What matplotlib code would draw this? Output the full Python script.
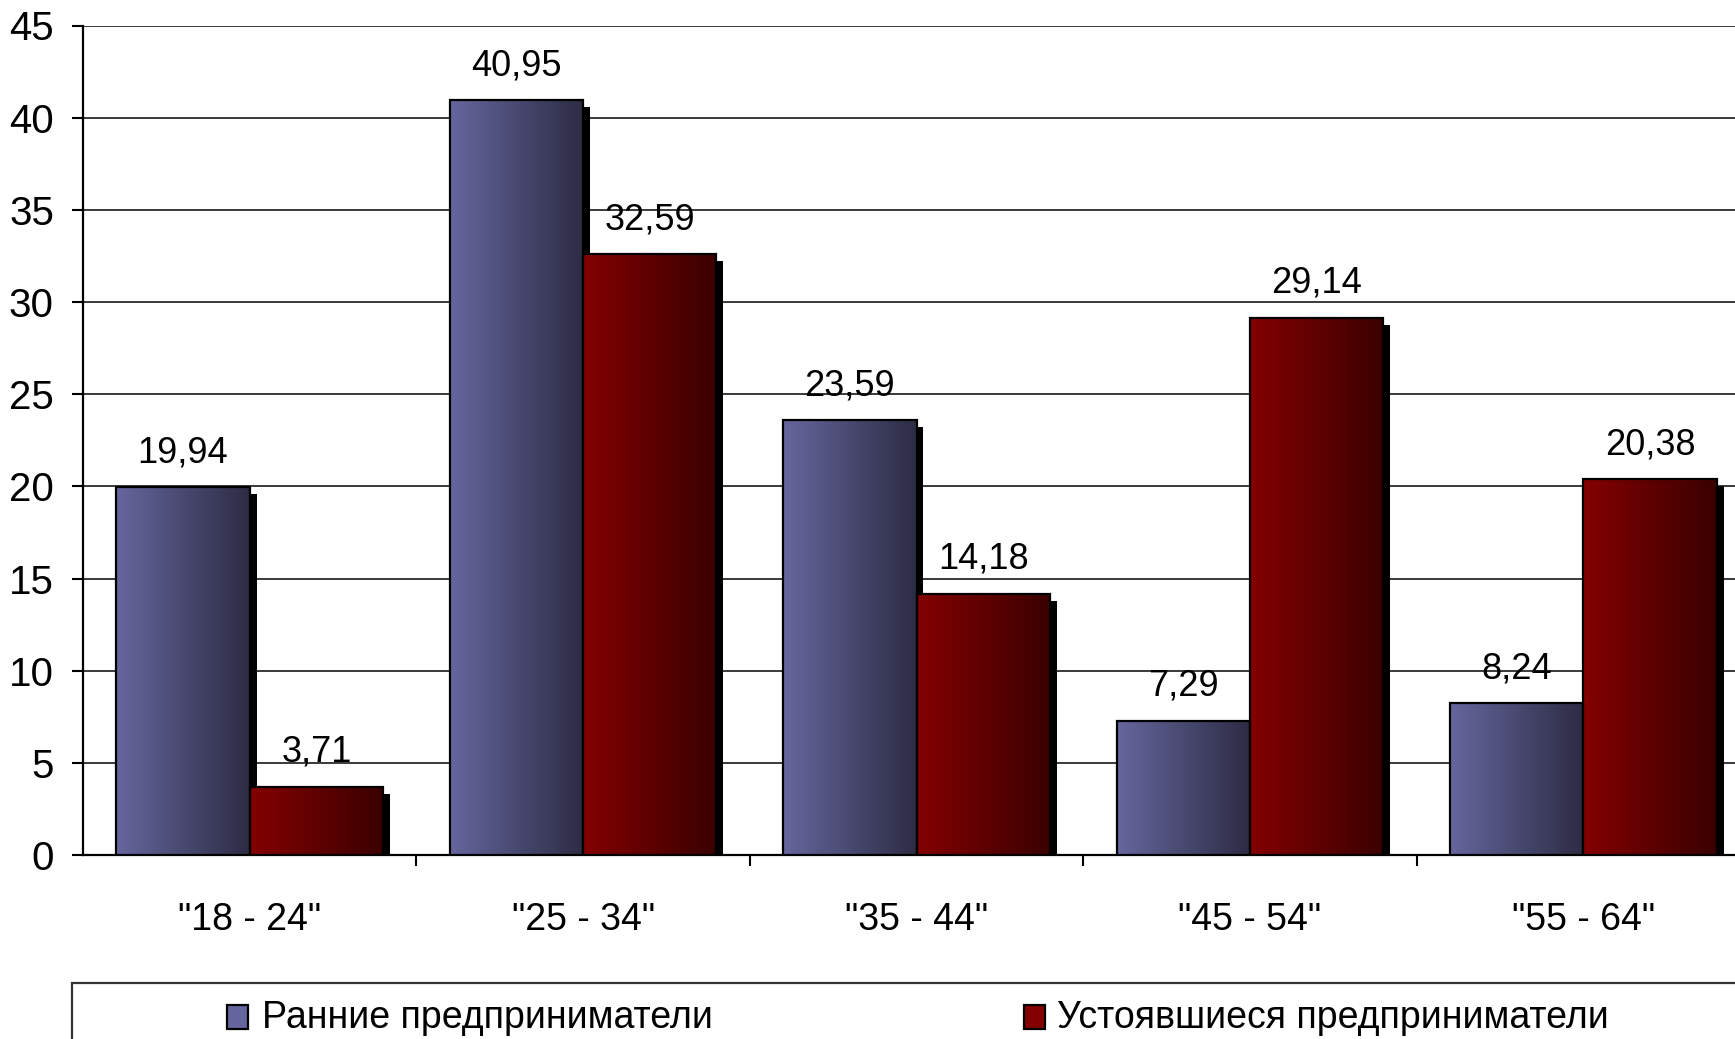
import matplotlib.pyplot as plt
import numpy
from matplotlib.colors import to_rgb
from matplotlib.patches import Rectangle
from matplotlib.transforms import ScaledTranslation

## data
AGE_GROUPS = ['"18 - 24"', '"25 - 34"', '"35 - 44"', '"45 - 54"', '"55 - 64"']
EARLY = [19.94, 40.95, 23.59, 7.29, 8.24]
ESTABLISHED = [3.71, 32.59, 14.18, 29.14, 20.38]
SERIES_NAMES = ["Ранние предприниматели", "Устоявшиеся предприниматели"]
Y_TICKS = [0, 5, 10, 15, 20, 25, 30, 35, 40, 45]

## styles
BAR_WIDTH = 0.4
EARLY_COLORS = ("#66669e", "#2c2c44")
ESTABLISHED_COLORS = ("#840000", "#3a0000")
SHADOW_PT = 5.0
FONT = "Liberation Sans"


def gradient_bars(ax, fig, xs, heights, colors):
    left = numpy.array(to_rgb(colors[0]))
    right = numpy.array(to_rgb(colors[1]))
    ramp = numpy.linspace(0, 1, 256)[None, :, None]
    img = left[None, None, :] * (1 - ramp) + right[None, None, :] * ramp
    ## drop shadow is shifted right and down by a fixed number of points
    shift = ScaledTranslation(SHADOW_PT / 72, -SHADOW_PT / 72, fig.dpi_scale_trans)
    bars = ax.bar(xs, heights, width=BAR_WIDTH, facecolor="none",
                  edgecolor="black", linewidth=1.6, zorder=4)
    for bar in bars:
        x0, y0 = bar.get_x(), bar.get_y()
        w, h = bar.get_width(), bar.get_height()
        shadow = Rectangle((x0, y0), w, h, facecolor="black", edgecolor="none",
                           transform=ax.transData + shift, zorder=2)
        ax.add_patch(shadow)
        im = ax.imshow(img, extent=(x0, x0 + w, y0, y0 + h), aspect="auto",
                       interpolation="bilinear", zorder=3)
        im.set_clip_path(bar)
    return bars


def main() -> None:
    plt.rcParams["font.family"] = [FONT, "DejaVu Sans"]
    fig = plt.figure(figsize=(17.35, 10.39), dpi=100)
    ## right edge of the plot runs past the figure border
    ax = fig.add_axes([83 / 1735, 184 / 1039, 1667 / 1735, 829.5 / 1039])

    xs = numpy.arange(len(AGE_GROUPS))
    early_bars = gradient_bars(ax, fig, xs - BAR_WIDTH / 2, EARLY, EARLY_COLORS)
    est_bars = gradient_bars(ax, fig, xs + BAR_WIDTH / 2, ESTABLISHED, ESTABLISHED_COLORS)

    for bars, values in ((early_bars, EARLY), (est_bars, ESTABLISHED)):
        for bar, value in zip(bars, values):
            ax.annotate(f"{value:.2f}".replace(".", ","),
                        xy=(bar.get_x() + bar.get_width() / 2, value),
                        xytext=(0, 18), textcoords="offset points",
                        ha="center", va="baseline", fontsize=26, zorder=5)

    ax.set_xlim(-0.5, len(AGE_GROUPS) - 0.5)
    ax.set_ylim(0, 45)
    ax.set_yticks(Y_TICKS)
    ax.set_yticklabels([str(t) for t in Y_TICKS], fontsize=29)
    ax.tick_params(axis="y", length=8, width=1.5, pad=13, color="black")

    ## category separators as major ticks, names centered as minor ticks
    ax.set_xticks(xs[:-1] + 0.5)
    ax.set_xticklabels([])
    ax.set_xticks(xs, minor=True)
    ax.set_xticklabels(AGE_GROUPS, minor=True, fontsize=27)
    ax.tick_params(axis="x", which="major", length=8, width=1.5, direction="out")
    ax.tick_params(axis="x", which="minor", length=0, pad=34)

    ax.yaxis.grid(True, color="#3a3a3a", linewidth=1.4)
    ax.set_axisbelow(True)
    for side in ("top", "right"):
        ax.spines[side].set_visible(False)
    ax.spines["left"].set_linewidth(1.6)
    ax.spines["bottom"].set_linewidth(1.6)

    ## legend box along the lower edge
    fig.patches.append(Rectangle((72 / 1735, -0.05), 1.0, (1039 - 983) / 1039 + 0.05,
                                 transform=fig.transFigure, facecolor="white",
                                 edgecolor="#333333", linewidth=1.6))
    legend_items = [(227, 262, EARLY_COLORS[0]), (1024, 1057, ESTABLISHED_COLORS[0])]
    for (sq_x, tx_x, color), name in zip(legend_items, SERIES_NAMES):
        fig.patches.append(Rectangle((sq_x / 1735, (1039 - 1029) / 1039), 21 / 1735,
                                     24 / 1039, transform=fig.transFigure,
                                     facecolor=color, edgecolor="black", linewidth=1.6))
        fig.text(tx_x / 1735, (1039 - 1018) / 1039, name, fontsize=27,
                 ha="left", va="center")

    fig.savefig("out.png", dpi=100)


if __name__ == "__main__":
    main()
